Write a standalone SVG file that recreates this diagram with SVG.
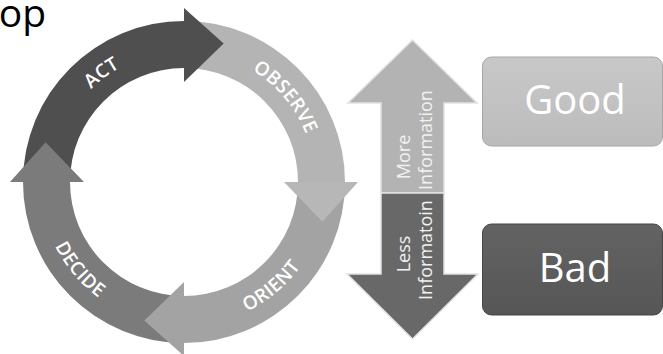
<svg xmlns="http://www.w3.org/2000/svg" width="663" height="354" viewBox="0 0 663 354">
<style>
.lbl{font-family:"Open Sans","Liberation Sans",sans-serif;font-weight:600;font-size:19px;fill:#ffffff;letter-spacing:0.3px}
.info{font-family:"Open Sans","Liberation Sans",sans-serif;font-size:18px;fill:#f2f2f2;text-anchor:middle}
.big{font-family:"Open Sans","Liberation Sans",sans-serif;font-size:40px;fill:#ffffff;text-anchor:middle}
.dbl{stroke:#e2e2e2;stroke-width:1.5;stroke-linejoin:miter}
</style>
<defs>
<linearGradient id="gGood" x1="0" y1="0" x2="0" y2="1"><stop offset="0" stop-color="#c8c8c8"/><stop offset="1" stop-color="#bcbcbc"/></linearGradient>
<linearGradient id="gBad" x1="0" y1="0" x2="0" y2="1"><stop offset="0" stop-color="#636363"/><stop offset="1" stop-color="#565656"/></linearGradient>
<path id="pAct" d="M55.9,152.4 A131,131 0 0 1 190.9,51.2"/>
<path id="pObs" d="M206.8,53 A131,131 0 0 1 315,182"/>
<path id="pOri" d="M184,326 A144,144 0 0 0 325.8,207"/>
<path id="pDec" d="M40,182 A144,144 0 0 0 159,323.8"/>
</defs>
<text x="46" y="27" font-family="Open Sans, Liberation Sans, sans-serif" font-size="39" fill="#000" text-anchor="end">op</text>
<g id="cycle">
<g id="bodies">
<path id="act-body" d="M23,182 A161,161 0 0 1 184,21 L184,68 A114,114 0 0 0 70,182 Z" fill="#4f4f4f"/>
<path id="observe-body" d="M184,21 A161,161 0 0 1 345,182 L298,182 A114,114 0 0 0 184,68 Z" fill="#b4b4b4"/>
<path id="orient-body" d="M345,182 A161,161 0 0 1 184,343 L184,296 A114,114 0 0 0 298,182 Z" fill="#a3a3a3"/>
<path id="decide-body" d="M184,343 A161,161 0 0 1 23,182 L70,182 A114,114 0 0 0 184,296 Z" fill="#7b7b7b"/>
</g>
<g id="heads">
<path id="act-head" d="M184,8 L223.7,43.6 L184,82 Z" fill="#4f4f4f"/>
<path id="observe-head" d="M358,182 L322.4,221.7 L284,182 Z" fill="#b7b7b7"/>
<path id="orient-head" d="M184,356 L144.3,320.4 L184,282 Z" fill="#a3a3a3"/>
<path id="decide-head" d="M10,182 L45.6,142.3 L84,182 Z" fill="#7b7b7b"/>
</g>
<text class="lbl"><textPath href="#pAct" startOffset="50%" text-anchor="middle">ACT</textPath></text>
<text class="lbl"><textPath href="#pObs" startOffset="50%" text-anchor="middle">OBSERVE</textPath></text>
<text class="lbl"><textPath href="#pOri" startOffset="50%" text-anchor="middle">ORIENT</textPath></text>
<text class="lbl"><textPath href="#pDec" startOffset="50%" text-anchor="middle">DECIDE</textPath></text>
</g>
<g id="double-arrow">
<path class="dbl" d="M412.5,40 L477,103 L444,103 L444,193 L381,193 L381,103 L348,103 Z" fill="#b3b3b3"/>
<path class="dbl" d="M381,193 L444,193 L444,274 L478,274 L412.5,339 L347,274 L381,274 Z" fill="#686868"/>
<text class="info" transform="translate(410,157) rotate(-90)">More</text>
<text class="info" transform="translate(432,140) rotate(-90)">Information</text>
<text class="info" transform="translate(410,254) rotate(-90)">Less</text>
<text class="info" transform="translate(432,250) rotate(-90)">Informatoin</text>
</g>
<g id="good">
<rect x="482.5" y="57" width="180" height="89" rx="9" fill="url(#gGood)" stroke="#a6a6a6" stroke-width="1"/>
<text class="big" x="575" y="114">Good</text>
</g>
<g id="bad">
<rect x="482.5" y="224" width="180" height="91" rx="9" fill="url(#gBad)" stroke="#474747" stroke-width="1"/>
<text class="big" x="575" y="282">Bad</text>
</g>
</svg>
